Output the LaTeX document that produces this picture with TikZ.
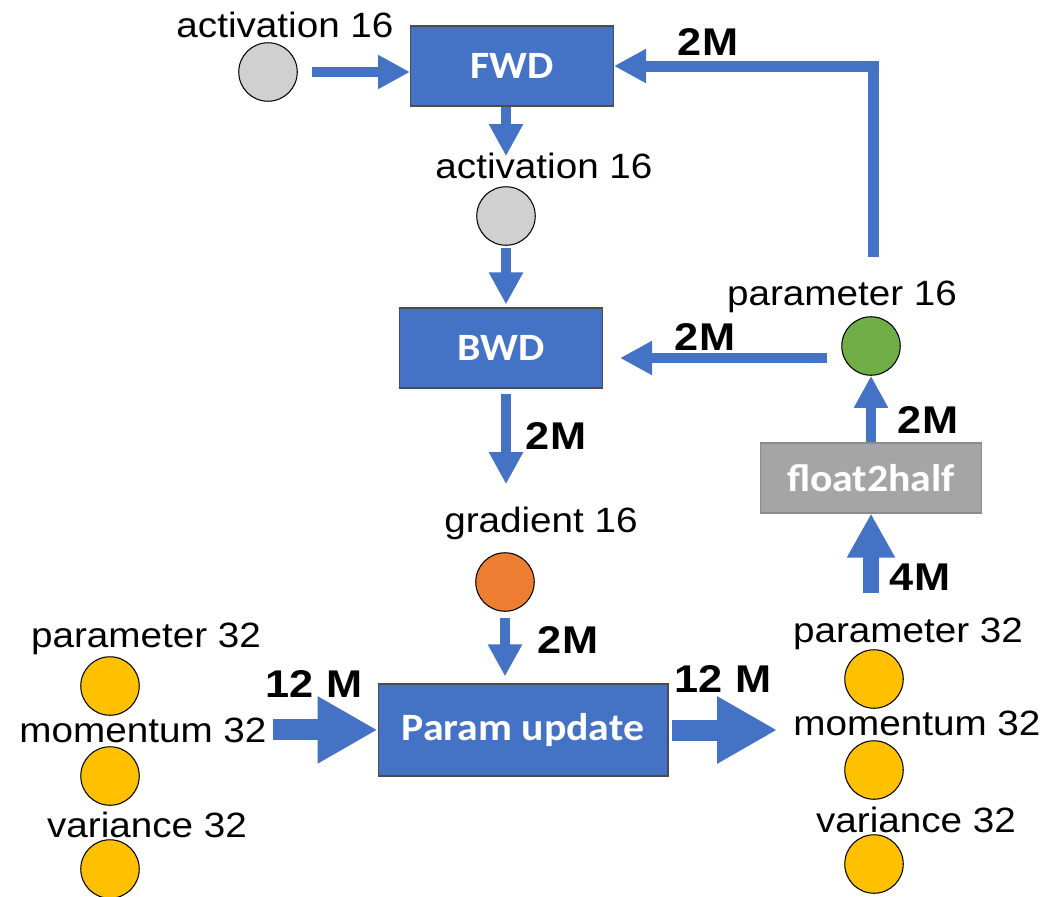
\documentclass[tikz,border=0pt]{standalone}
\usepackage{fontspec}
\setmainfont{Liberation Sans}
\newfontfamily\lblfont[FakeStretch=1.1]{Liberation Sans}
\newfontfamily\numfont[FakeStretch=1.12]{Liberation Sans}
\newfontfamily\boxfont[FakeStretch=1.08]{Carlito}
\usepackage{xcolor}
\usepackage{tikz}
\usetikzlibrary{arrows.meta,positioning}
\definecolor{flowblue}{RGB}{68,114,196}
\definecolor{boxgray}{RGB}{165,165,165}
\definecolor{gradorange}{RGB}{237,125,49}
\definecolor{paramgreen}{RGB}{112,173,71}
\definecolor{stateyellow}{RGB}{255,192,0}
\definecolor{actgray}{RGB}{208,208,208}

\begin{document}
\begin{tikzpicture}[
        x=0.02cm, y=-0.02cm,
        every node/.style={inner sep=0pt},
        lbl/.style={font=\lblfont\fontsize{20}{22}\selectfont, anchor=base},
        num/.style={font=\numfont\bfseries\fontsize{22}{24}\selectfont, anchor=base},
        stage/.style={rectangle, draw=black!70, line width=0.6pt, fill=flowblue, text=white, font=\boxfont\bfseries\fontsize{22}{24}\selectfont},
        tensor/.style={circle, draw=black, line width=0.6pt, minimum size=1.17cm},
        flow/.style={draw=flowblue, line width=0.2cm, -{Triangle[width=0.64cm,length=0.64cm]}},
        fat/.style={draw=flowblue, line width=0.42cm, -{Triangle[width=1.26cm,length=1.2cm]}}
    ]
        \useasboundingbox (0,0) rectangle (1048,896);

        \node[stage, minimum width=4.06cm, minimum height=1.6cm] (fwd) at (512,66) {FWD};
        \node[stage, minimum width=4.06cm, minimum height=1.6cm] (bwd) at (501,348) {BWD};
        \node[stage, minimum width=5.8cm, minimum height=1.84cm] (update) at (523,730) {Param update};
        \node[stage, fill=boxgray, draw=boxgray!85!black, minimum width=4.42cm, minimum height=1.4cm] (f2h) at (871,478) {float2half};

        \node[tensor, fill=actgray] (act1) at (268,72) {};
        \node[tensor, fill=actgray] (act2) at (506,216) {};
        \node[tensor, fill=gradorange] (grad) at (505,582) {};
        \node[tensor, fill=paramgreen] (p16) at (871,346) {};
        \node[tensor, fill=stateyellow] (lparc) at (110,686) {};
        \node[tensor, fill=stateyellow] (lmomc) at (110,776) {};
        \node[tensor, fill=stateyellow] (lvarc) at (110,869) {};
        \node[tensor, fill=stateyellow] (rparc) at (874,679) {};
        \node[tensor, fill=stateyellow] (rmomc) at (874,770) {};
        \node[tensor, fill=stateyellow] (rvarc) at (874,864) {};

        \node[lbl] (lact1) at (285,37) {activation 16};
        \node[lbl] (lact2) at (544,178) {activation 16};
        \node[lbl] (lgrad) at (541,532) {gradient 16};
        \node[lbl] (lp16) at (842,305) {parameter 16};
        \node[lbl] (lpar) at (146,647) {parameter 32};
        \node[lbl] (lmom) at (143,742) {momentum 32};
        \node[lbl] (lvar) at (147,837) {variance 32};
        \node[lbl] (rpar) at (908,642) {parameter 32};
        \node[lbl] (rmom) at (917,735) {momentum 32};
        \node[lbl] (rvar) at (916,832) {variance 32};

        \node[num] (nfwd) at (708,55) {2M};
        \node[num] (nbwd) at (705,350) {2M};
        \node[num] (ngrad) at (556,449) {2M};
        \node[num] (nhalf) at (928,433) {2M};
        \node[num] (nfloat) at (920,590) {4M};
        \node[num] (nupd) at (568,653) {2M};
        \node[num] (nin) at (314,697) {12 M};
        \node[num] (nout) at (723,692) {12 M};

        \coordinate (p16out) at ([yshift=-0.24cm]p16.west);
        \coordinate (p16up) at (873,257);

        \draw[flow, shorten <=0.28cm] (act1.east) -- (act1.east -| fwd.west);
        \draw[flow, shorten >=-0.08cm] (act2 |- fwd.south) -- (act2 |- lact2.north);
        \draw[flow, shorten <=0.04cm, shorten >=0.06cm] (act2.south) -- (act2.south |- bwd.north);
        \draw[flow, shorten <=0.1cm, shorten >=0.44cm] (act2 |- bwd.south) -- (act2 |- lgrad.north);
        \draw[flow, shorten <=0.12cm, shorten >=0.14cm] (grad.south) -- (grad.south |- update.north);
        \draw[flow, shorten <=0.28cm, shorten >=0.34cm] (p16out) -- (p16out -| bwd.east);
        \draw[flow] (f2h.north) -- (p16.south);
        \draw[flow, line width=0.32cm, -{Triangle[width=0.9cm,length=0.88cm]}, shorten <=0.48cm] (f2h |- rpar.north) -- (f2h.south);
        \draw[flow, line width=0.22cm] (p16up) |- (fwd.east);
        \draw[fat, shorten <=0.12cm] (lmom.east) -- (lmom.east -| update.west);
        \draw[fat, shorten <=0.06cm, shorten >=0.32cm] (update.east) -- (update.east -| rmom.west);
    \end{tikzpicture}
\end{document}
